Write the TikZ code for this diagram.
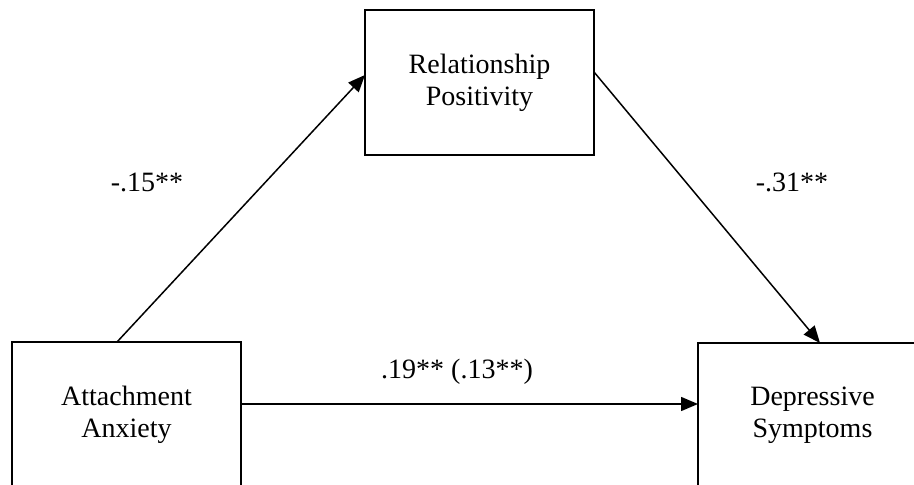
\documentclass[tikz,border=0pt]{standalone}
\usepackage{fontspec}
\setmainfont{Liberation Serif}
\usetikzlibrary{arrows.meta,calc}
\begin{document}
\begin{tikzpicture}[x=0.5pt,y=-0.5pt,
  boxline/.style={line width=1.1pt},
  box/.style={boxline,draw,minimum width=114.5pt,minimum height=72.5pt,align=center,font=\fontsize{14}{16}\selectfont,inner sep=0pt,outer sep=0pt},
  openbox/.style={box,draw=none},
  link/.style={line width=0.75pt,-{Triangle[length=8.5pt,width=7pt]}},
  lab/.style={font=\fontsize{14}{16}\selectfont,inner sep=0pt}]
\useasboundingbox (0,0) rectangle (914,485);
\node[box] (rp) at (479.5,82.5) {Relationship\\Positivity};
\node[box] (aa) at (126.5,414.5) {Attachment\\Anxiety};
\node[openbox] (ds) at (812.5,415.5) {Depressive\\Symptoms};
\draw[boxline] (ds.north east) -- (ds.north west) -- (ds.south west);
\draw[link] ($(aa.north)+(-9.5,0)$) -- ($(rp.west)+(0,-7.5)$);
\draw[link] ($(rp.east)+(0,-10.5)$) -- ($(ds.north)+(7.5,0)$);
\draw[link] ($(aa.east)+(0,-10.5)$) coordinate (h1) -- (h1 -| ds.west);
\node[lab] (l1) at (147,182) {-.15**};
\node[lab] (l2) at (792,182) {-.31**};
\node[lab] (l3) at (457,372) {.19** (.13**)};
\end{tikzpicture}
\end{document}
